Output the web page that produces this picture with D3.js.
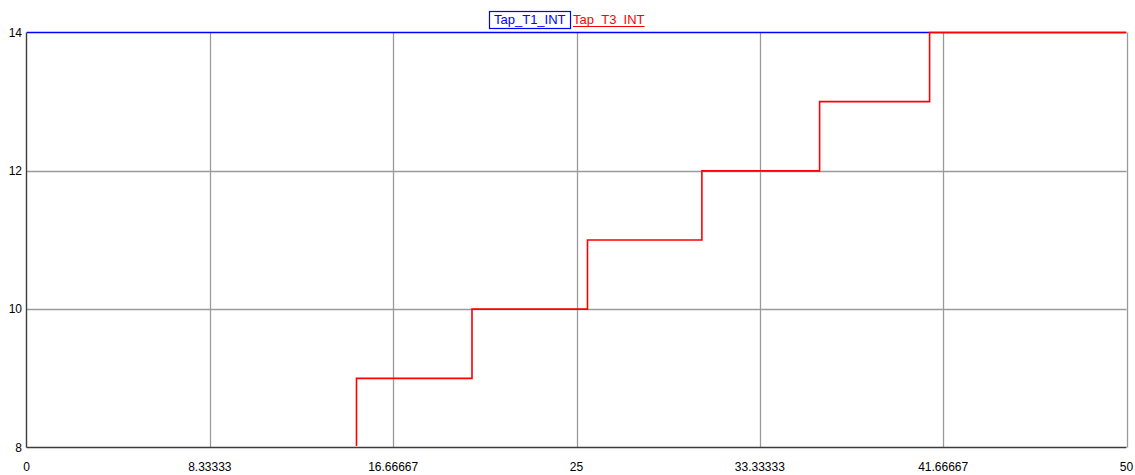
<!DOCTYPE html>
<html>
<head>
<meta charset="utf-8">
<script src="https://cdn.jsdelivr.net/npm/d3@7"></script>
<style>
  html, body { margin: 0; padding: 0; background: #fff; }
  svg { display: block; font-family: "Liberation Sans", Arial, sans-serif; }
</style>
</head>
<body>
<svg id="chart" width="1135" height="475"></svg>
<script>
// Tap positions over time (step traces)
const seriesNames = ["Tap_T1_INT", "Tap_T3_INT"];
const seriesColors = ["#0000ff", "#ff0000"];
const t1Times = [0, 50];
const t1Values = [14, 14];
const t3Times = [0, 15, 20.25, 25.5, 30.7, 36.05, 41.05, 50];
const t3Values = [8, 9, 10, 11, 12, 13, 14, 14];

const xTicks = [0, 8.33333, 16.66667, 25, 33.33333, 41.66667, 50];
const xTickLabels = ["0", "8.33333", "16.66667", "25", "33.33333", "41.66667", "50"];
const yTicks = [8, 10, 12, 14];
const yTickLabels = ["8", "10", "12", "14"];

const svg = d3.select("#chart");
const margin = { left: 26.5, right: 1126.5, top: 32.5, bottom: 447.5 };

const x = d3.scaleLinear().domain([0, 50]).range([margin.left, margin.right]);
const y = d3.scaleLinear().domain([8, 14]).range([margin.bottom, margin.top]);

// traces are clipped to the plot interior (the lower bound sits under the x axis)
const clipTop = margin.top - 2;
const clipBottom = margin.bottom - 1.5;
svg.append("defs").append("clipPath").attr("id", "plotClip")
  .append("rect")
  .attr("x", margin.left).attr("y", clipTop)
  .attr("width", margin.right - margin.left).attr("height", clipBottom - clipTop);

// grid
const grid = svg.append("g").attr("stroke", "#9a9a9a").attr("stroke-width", 1.3);
grid.selectAll("line.v").data(xTicks.slice(1)).join("line")
  .attr("x1", d => Math.round(x(d)) + 0.5).attr("x2", d => Math.round(x(d)) + 0.5)
  .attr("y1", margin.top).attr("y2", margin.bottom);
grid.selectAll("line.h").data(yTicks.slice(1, -1)).join("line")
  .attr("y1", d => Math.round(y(d)) + 0.5).attr("y2", d => Math.round(y(d)) + 0.5)
  .attr("x1", margin.left).attr("x2", margin.right);

// step traces
const line = d3.line()
  .x(d => x(d[0]))
  .y(d => y(d[1]))
  .curve(d3.curveStepAfter);

const traces = [
  d3.zip(t1Times, t1Values),
  d3.zip(t3Times, t3Values)
];

svg.append("g").attr("clip-path", "url(#plotClip)")
  .selectAll("path").data(traces).join("path")
  .attr("fill", "none")
  .attr("stroke", (d, i) => seriesColors[i])
  .attr("stroke-width", 1.6)
  .attr("d", line);

// axes lines
const axisG = svg.append("g").attr("stroke", "#3c3c3c").attr("stroke-width", 1.4);
axisG.append("line")
  .attr("x1", margin.left).attr("x2", margin.left)
  .attr("y1", margin.top).attr("y2", margin.bottom);
axisG.append("line")
  .attr("x1", margin.left).attr("x2", margin.right)
  .attr("y1", margin.bottom).attr("y2", margin.bottom);

// y tick labels
svg.append("g").selectAll("text").data(yTicks).join("text")
  .attr("x", 22).attr("y", d => y(d) + 4)
  .attr("text-anchor", "end")
  .attr("font-size", 12).attr("fill", "#000")
  .text((d, i) => yTickLabels[i]);

// x tick labels
svg.append("g").selectAll("text").data(xTicks).join("text")
  .attr("x", d => x(d)).attr("y", 471)
  .attr("text-anchor", "middle")
  .attr("font-size", 12).attr("fill", "#000")
  .text((d, i) => xTickLabels[i]);

// legend
const legend = svg.append("g").attr("font-size", 13);
const l1 = legend.append("text")
  .attr("x", 494).attr("y", 24)
  .attr("fill", seriesColors[0]).text(seriesNames[0]);
const b1 = l1.node().getBBox();
legend.append("rect")
  .attr("x", 489.5).attr("y", 11.5)
  .attr("width", Math.round(b1.x + b1.width) + 4 - 489).attr("height", 17)
  .attr("fill", "none").attr("stroke", seriesColors[0]).attr("stroke-width", 1.2);
const l2x = Math.round(b1.x + b1.width) + 7;
const l2 = legend.append("text")
  .attr("x", l2x).attr("y", 24)
  .attr("fill", seriesColors[1]).text(seriesNames[1]);
const b2 = l2.node().getBBox();
legend.append("line")
  .attr("x1", b2.x).attr("x2", b2.x + b2.width)
  .attr("y1", 26.5).attr("y2", 26.5)
  .attr("stroke", seriesColors[1]).attr("stroke-width", 1);
</script>
</body>
</html>
